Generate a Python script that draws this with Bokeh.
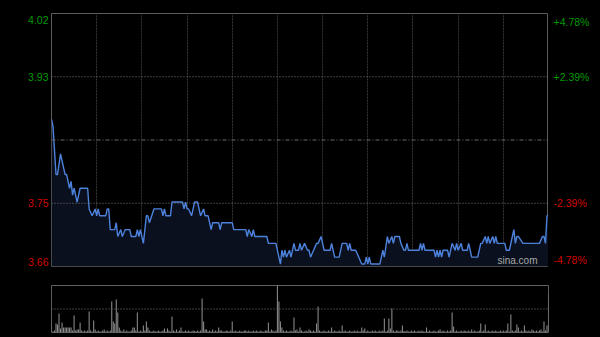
from bokeh.plotting import figure
from bokeh.layouts import column, row
from bokeh.models import Range1d, Span, Label, Grid, FixedTicker
from bokeh.core.properties import value
from bokeh.embed import file_html
from bokeh.resources import INLINE

# ---------------- data ----------------
prev_close = 3.84
pct_ticks = [4.78, 2.39, -2.39, -4.78]
left_labels = ["4.02", "3.93", "3.75", "3.66"]
right_labels = ["+4.78%", "+2.39%", "-2.39%", "-4.78%"]
time_grid = [30, 60, 90, 120, 150, 180, 210, 240, 270, 300]

# minute index (0..330, HK session) and price at each vertex
times = [0, 1, 3, 4, 6, 9, 10, 12, 13, 14, 15, 16, 17, 19, 24, 25, 27, 29, 30, 31,
         32, 36, 37, 38, 39, 42, 43, 44, 46, 47, 49, 52, 53, 56, 57, 58, 59, 60, 61, 63,
         64, 65, 68, 73, 74, 75, 76, 79, 80, 87, 88, 89, 90, 91, 93, 95, 97, 99, 101, 102,
         104, 106, 107, 111, 112, 113, 120, 121, 129, 130, 131, 133, 134, 135, 143, 144, 149, 151, 152, 153,
         154, 155, 156, 158, 159, 161, 162, 164, 165, 166, 168, 170, 171, 172, 174, 176, 177, 179, 180, 181,
         185, 186, 187, 188, 191, 193, 196, 197, 198, 199, 202, 206, 208, 209, 210, 211, 212, 218, 220, 221,
         223, 224, 226, 227, 228, 231, 232, 234, 235, 236, 237, 244, 245, 246, 247, 248, 254, 255, 256, 257,
         258, 259, 260, 263, 264, 266, 268, 269, 270, 272, 273, 276, 277, 278, 279, 283, 285, 286, 288, 289,
         290, 291, 293, 294, 295, 296, 301, 302, 304, 306, 307, 308, 309, 310, 313, 324, 326, 327, 328, 329,
         330]
prices = [3.87, 3.86, 3.79, 3.79, 3.82, 3.79, 3.79, 3.77, 3.78, 3.76, 3.77, 3.76, 3.75, 3.77, 3.77, 3.74, 3.73, 3.74, 3.73, 3.74,
          3.73, 3.73, 3.74, 3.74, 3.71, 3.71, 3.72, 3.70, 3.71, 3.70, 3.71, 3.71, 3.70, 3.70, 3.71, 3.70, 3.71, 3.70, 3.69, 3.73,
          3.73, 3.72, 3.74, 3.74, 3.73, 3.74, 3.73, 3.73, 3.75, 3.75, 3.74, 3.75, 3.74, 3.74, 3.73, 3.75, 3.75, 3.73, 3.74, 3.73,
          3.73, 3.71, 3.72, 3.72, 3.71, 3.72, 3.72, 3.71, 3.71, 3.70, 3.71, 3.70, 3.71, 3.70, 3.70, 3.69, 3.69, 3.67, 3.66, 3.68,
          3.67, 3.68, 3.67, 3.68, 3.67, 3.69, 3.68, 3.68, 3.69, 3.68, 3.69, 3.68, 3.68, 3.67, 3.68, 3.69, 3.69, 3.70, 3.69, 3.68,
          3.68, 3.69, 3.68, 3.67, 3.67, 3.69, 3.69, 3.68, 3.69, 3.68, 3.68, 3.66, 3.66, 3.67, 3.66, 3.67, 3.66, 3.66, 3.68, 3.67,
          3.70, 3.69, 3.70, 3.69, 3.70, 3.70, 3.69, 3.68, 3.68, 3.69, 3.68, 3.68, 3.69, 3.68, 3.69, 3.68, 3.68, 3.67, 3.68, 3.67,
          3.68, 3.67, 3.68, 3.68, 3.67, 3.69, 3.68, 3.69, 3.68, 3.69, 3.68, 3.68, 3.69, 3.68, 3.67, 3.67, 3.69, 3.69, 3.70, 3.69,
          3.70, 3.69, 3.70, 3.69, 3.70, 3.69, 3.69, 3.68, 3.68, 3.70, 3.71, 3.69, 3.70, 3.70, 3.69, 3.69, 3.70, 3.70, 3.69, 3.73,
          3.73]

# volume per minute (relative units)
volume = [10, 1, 2, 9, 8, 19, 4, 10, 5, 5,
          5, 5, 5, 5, 2, 17, 2, 3, 3, 10,
          2, 1, 2, 1, 2, 21, 2, 1, 12, 3,
          1, 2, 1, 1, 2, 3, 1, 2, 1, 2,
          31, 11, 9, 33, 20, 5, 2, 1, 3, 1,
          2, 1, 1, 2, 5, 5, 2, 20, 1, 2,
          1, 7, 2, 11, 5, 2, 1, 1, 2, 1,
          1, 2, 1, 1, 2, 4, 1, 4, 2, 1,
          16, 2, 1, 3, 1, 2, 5, 1, 1, 2,
          1, 2, 1, 1, 2, 1.5, 1, 2, 1, 2,
          34, 11, 3, 3, 1, 2, 1, 3, 1, 2,
          1, 5, 2, 2, 1, 1, 2, 1.5, 1, 2,
          11, 1, 2, 1, 1, 2, 1, 1, 2, 2,
          1, 2, 1, 1, 2, 1, 2, 1, 1, 2,
          1, 1, 2, 2, 10, 1, 3, 2, 1, 2,
          47, 31, 11, 5, 2, 1, 2, 1, 1, 2,
          1, 15, 2, 3, 1, 5, 2, 1, 1, 2,
          1, 3, 2, 1, 2, 1, 9, 26, 2, 1,
          1, 2, 1, 1, 2, 1, 5, 1, 2, 1,
          1, 2, 1, 7, 1, 2, 1, 1, 2, 1,
          1, 2, 1, 2, 1, 1, 5, 2, 4, 1,
          2, 1, 1, 2, 1, 2, 1, 1, 2, 1,
          2, 14, 1, 2, 14, 4, 24, 2, 1, 2,
          2, 1, 2, 7, 1.5, 1, 2, 1, 1, 2,
          1, 2, 1, 1, 2, 1, 2, 1, 1, 5,
          1, 2, 1, 1, 2, 1, 1, 2, 3, 1,
          2, 1, 1, 2, 1, 2, 20, 6, 1, 2,
          1, 1, 2, 1, 2, 1.5, 1, 2, 1, 3,
          1, 2, 1, 1, 2, 9, 1, 2, 8, 1,
          2, 1, 1, 2, 1, 2, 1, 1, 2, 1,
          2, 1, 2, 9, 1, 18, 2, 1, 2, 8,
          5, 1, 2, 1, 7, 2, 1, 2, 1, 3,
          2, 1, 2, 1, 2, 3, 1, 11, 2, 7,
          39]
minutes = list(range(len(volume)))

# ---------------- styling ----------------
BG = "#000000"
GREEN = "#009a00"
RED = "#d20000"
FONT = "Liberation Sans"
FS = "10.5px"
y_lo = prev_close * (1 + pct_ticks[-1] / 100)
y_hi = prev_close * (1 + pct_ticks[0] / 100)
levels = [prev_close * (1 + t / 100) for t in pct_ticks]
colors = [GREEN if t > 0 else RED for t in pct_ticks]
baselines = ["top", "middle", "middle", "bottom"]
y_offs = [-2, 0, 0, 1]


def base_fig(width, height, x_range, y_range, bl, br, bt, bb):
    f = figure(width=width, height=height, x_range=x_range, y_range=y_range,
               x_axis_type=None, y_axis_type=None, toolbar_location=None,
               output_backend="svg", background_fill_color=BG, border_fill_color=BG,
               min_border_left=bl, min_border_right=br, min_border_top=bt, min_border_bottom=bb)
    f.outline_line_color = None
    return f


yr = Range1d(y_lo, y_hi)

# left label strip
lf = base_fig(51, 276, Range1d(0, 51), yr, 0, 0, 13, 10)
lf.text(x=[48] * 4, y=levels, text=left_labels, text_align="right",
        text_baseline=baselines, y_offset=[-o for o in y_offs], text_color=colors,
        text_font=value(FONT), text_font_size=FS)

# main price chart
p = base_fig(497, 276, Range1d(0, 330), yr, 0, 0, 13, 10)
p.outline_line_color = "#5c5c5c"
p.outline_line_width = 1
p.add_layout(Grid(dimension=0, ticker=FixedTicker(ticks=time_grid),
                  grid_line_color="#363636", grid_line_dash="2 1", grid_line_width=1))
for lv in levels[1:3]:
    p.add_layout(Span(location=lv, dimension="width",
                      line_color="#7a7a7a", line_dash="1 2", line_width=1))
p.add_layout(Span(location=prev_close, dimension="width",
                  line_color="#6a6a6a", line_dash="4 2 1 2", line_width=1))
p.varea(x=times, y1=y_lo, y2=prices, fill_color="#0a101d", fill_alpha=1.0)
p.line(x=times, y=prices, line_color="#4d82dc", line_width=1.4)
p.add_layout(Label(x=330, y=y_lo, text="sina.com", x_offset=-11, y_offset=1,
                   text_align="right", text_baseline="bottom", text_color="#a8a8a8",
                   text_font=FONT, text_font_size="10px"))

# right label strip
rf = base_fig(52, 276, Range1d(0, 52), yr, 0, 0, 13, 10)
rf.text(x=[5] * 4, y=levels, text=right_labels, text_align="left",
        text_baseline=baselines, y_offset=[-o for o in y_offs], text_color=colors,
        text_font=value(FONT), text_font_size=FS)

# volume panel
v = base_fig(600, 61, Range1d(0, 330), Range1d(0, max(volume)), 51, 52, 9, 5)
v.outline_line_color = "#5c5c5c"
v.add_layout(Span(location=max(volume) / 2, dimension="width",
                  line_color="#7a7a7a", line_dash="1 2", line_width=1))
v.add_layout(Span(location=max(volume), dimension="width",
                  line_color="#7a7a7a", line_dash="1 2", line_width=1))
v.vbar(x=minutes, top=volume, width=0.7, fill_color="#8c8c8c", line_color=None)

layout = column(row(lf, p, rf, spacing=0), v, spacing=0, styles={"background-color": BG})
open("out.html", "w").write(file_html(layout, INLINE))
